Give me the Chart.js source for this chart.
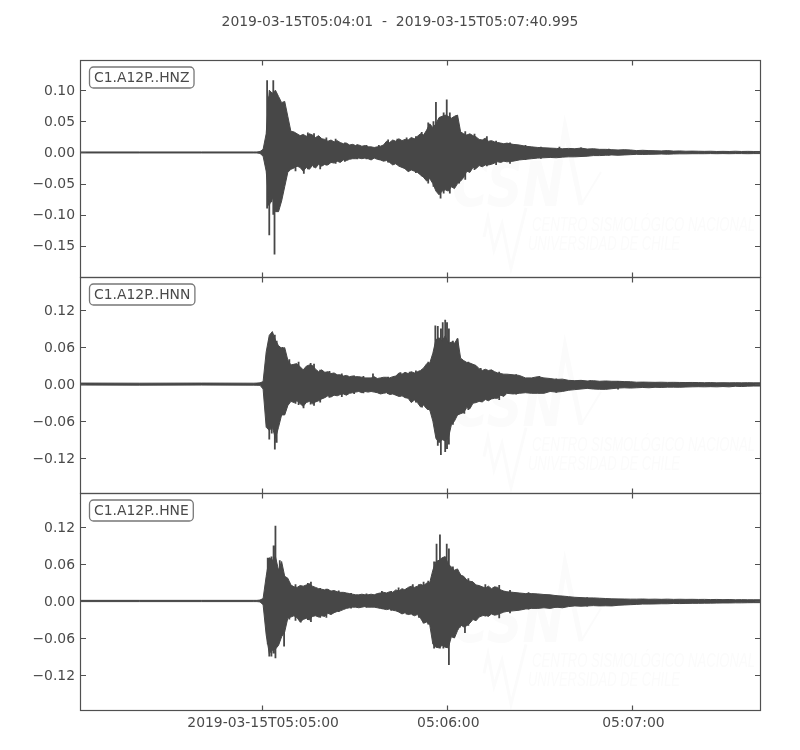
<!DOCTYPE html>
<html><head><meta charset="utf-8">
<script src="https://cdn.jsdelivr.net/npm/chart.js@4"></script>
<style>html,body{margin:0;padding:0;background:#fff}canvas{display:block}</style>
</head><body><canvas id="c" width="800" height="750"></canvas>
<script>
const chartTitle = "2019-03-15T05:04:01  -  2019-03-15T05:07:40.995";
const stations = ["C1.A12P..HNZ", "C1.A12P..HNN", "C1.A12P..HNE"];
const xTickSeconds = [0, 60, 120];
const xTickLabels = ["2019-03-15T05:05:00", "05:06:00", "05:07:00"];
const yTicksZ = [0.10, 0.05, 0, -0.05, -0.10, -0.15];
const yTicksN = [0.12, 0.06, 0, -0.06, -0.12];
const yTicksE = [0.12, 0.06, 0, -0.06, -0.12];

// seconds relative to 05:05:00
const seconds = [-59,-40,-20,-3,-2,-1,
 0,1,2,3,4,5,6,7,8,9,
 10,11,12,13,14,15,16,17,18,19,
 20,21,22,23,24,25,26,27,28,29,
 30,31,32,33,34,35,36,37,38,39,
 40,41,42,43,44,45,46,47,48,49,
 50,51,52,53,54,55,56,57,58,59,
 60,61,62,63,64,65,66,67,68,69,
 70,71,72,73,74,75,76,77,78,79,
 81,83,85,87,89,91,93,95,97,99,
 101,103,105,107,109,111,113,115,117,119,
 121,123,125,127,129,131,133,135,137,139,
 141,143,145,147,149,151,153,155,157,159,
 160.995];

const hnzTop = [.0008,.0008,.0008,.0008,.0008,.0015,
 .005,.03,.10,.095,.10,.09,.08,.082,.058,.034,
 .033,.030,.027,.029,.026,.030,.028,.024,.027,.022,
 .021,.018,.020,.017,.019,.016,.014,.015,.012,.013,
 .011,.012,.010,.011,.009,.009,.008,.009,.010,.012,
 .018,.016,.020,.018,.022,.019,.021,.020,.024,.022,
 .026,.030,.028,.036,.046,.040,.046,.056,.058,.060,
 .058,.055,.058,.060,.033,.030,.028,.030,.027,.025,
 .021,.020,.023,.018,.019,.017,.016,.015,.014,.015,
 .013,.012,.010,.009,.008,.0075,.007,.0065,.006,.0065,
 .006,.007,.0055,.006,.005,.005,.0045,.004,.0045,.004,
 .003,.0035,.003,.0028,.0025,.003,.0022,.0025,.002,.0022,
 .002,.0018,.002,.0016,.0018,.0016,.002,.0016,.0018,.0016,
 .0016];
const hnzBottom = [-.0008,-.0008,-.0008,-.0008,-.0008,-.0015,
 -.006,-.03,-.085,-.072,-.095,-.095,-.078,-.055,-.032,-.027,
 -.025,-.022,-.024,-.030,-.024,-.027,-.021,-.025,-.019,-.022,
 -.019,-.020,-.016,-.017,-.014,-.016,-.012,-.013,-.011,-.010,
 -.010,-.009,-.010,-.009,-.010,-.012,-.009,-.011,-.012,-.014,
 -.013,-.016,-.020,-.018,-.022,-.024,-.026,-.031,-.028,-.030,
 -.032,-.036,-.040,-.046,-.042,-.050,-.062,-.068,-.062,-.060,
 -.062,-.055,-.058,-.050,-.046,-.040,-.030,-.032,-.024,-.026,
 -.021,-.023,-.020,-.020,-.019,-.017,-.015,-.016,-.014,-.015,
 -.014,-.012,-.011,-.010,-.009,-.0085,-.008,-.0085,-.0075,-.007,
 -.007,-.0065,-.006,-.005,-.005,-.0045,-.004,-.0045,-.004,-.0035,
 -.003,-.0032,-.003,-.0028,-.0025,-.0028,-.0024,-.0022,-.0022,-.002,
 -.002,-.002,-.0018,-.002,-.0018,-.002,-.0018,-.0018,-.002,-.0018,
 -.0018];
const hnzSpikeT = [1.3,1.6,2.0,2.6,3.3,3.7,8.5,10.5,12.5,13.2,14.5,16.5,18.5,20.5,23.5,26.5,30.5,33.5,37.5,40.5,43.5,46.5,49.5,51.4,53.5,55.2,56,57.5,58.5,59.5,60.5,62.7,63.5,65.5,68.5,72.5,75.5,80,85,90,96,103,112];
const hnzSpikeHi = [.116,.09,.08,.095,.116,.09,.036,.031,.028,.02,.032,.031,.025,.024,.022,.016,.013,.012,.012,.021,.022,.024,.026,.033,.048,.05,.081,.05,.064,.085,.064,.06,.04,.034,.03,.026,.019,.016,.012,.009,.009,.008,.006];
const hnzSpikeLo = [-.09,-.085,-.133,-.08,-.10,-.164,-.028,-.03,-.026,-.034,-.027,-.024,-.027,-.021,-.018,-.015,-.011,-.011,-.012,-.016,-.02,-.028,-.033,-.038,-.05,-.055,-.05,-.074,-.066,-.055,-.066,-.03,-.05,-.044,-.028,-.022,-.02,-.018,-.012,-.01,-.008,-.007,-.005];

const hnnTop = [.0016,.0014,.0016,.0014,.0016,.002,
 .004,.052,.079,.085,.071,.062,.058,.059,.039,.031,
 .032,.033,.028,.023,.029,.031,.030,.024,.020,.023,
 .019,.020,.017,.018,.015,.015,.013,.014,.012,.013,
 .012,.012,.011,.010,.010,.010,.012,.009,.010,.011,
 .011,.010,.012,.013,.018,.016,.019,.017,.020,.018,
 .020,.022,.026,.033,.034,.050,.072,.075,.070,.078,
 .066,.068,.066,.074,.042,.038,.035,.034,.032,.030,
 .025,.022,.024,.022,.023,.020,.018,.017,.016,.016,
 .015,.014,.010,.010,.012,.010,.009,.0075,.008,.006,
 .0055,.006,.005,.0055,.0045,.005,.0045,.0045,.004,.0038,
 .003,.0032,.003,.0028,.003,.0027,.0028,.0026,.0025,.0026,
 .0024,.0022,.0024,.002,.0022,.002,.0022,.002,.0022,.002,
 .002];
const hnnBottom = [-.0016,-.0018,-.0016,-.0018,-.002,-.002,
 -.008,-.07,-.075,-.07,-.088,-.07,-.05,-.05,-.035,-.028,
 -.03,-.027,-.032,-.036,-.030,-.028,-.032,-.029,-.027,-.024,
 -.022,-.019,-.021,-.018,-.019,-.017,-.016,-.018,-.015,-.014,
 -.013,-.012,-.014,-.012,-.013,-.012,-.013,-.014,-.016,-.015,
 -.014,-.017,-.016,-.018,-.020,-.019,-.022,-.023,-.030,-.026,
 -.030,-.037,-.034,-.040,-.042,-.060,-.088,-.095,-.090,-.092,
 -.088,-.066,-.060,-.050,-.048,-.046,-.038,-.040,-.031,-.030,
 -.028,-.029,-.025,-.027,-.024,-.023,-.023,-.018,-.020,-.015,
 -.016,-.015,-.014,-.015,-.015,-.015,-.012,-.013,-.012,-.010,
 -.009,-.008,-.007,-.008,-.0085,-.0086,-.0075,-.0065,-.006,-.0065,
 -.006,-.0055,-.006,-.0052,-.0055,-.005,-.005,-.0052,-.0048,-.0045,
 -.0043,-.0045,-.0042,-.0045,-.004,-.0045,-.0035,-.004,-.0034,-.0032,
 -.0032];
const hnnSpikeT = [1.6,2.0,2.8,3.8,4.4,6.2,8.5,10.5,11.5,13.1,15.4,16.5,18.5,21.5,25.5,29.5,32.5,35.6,40.5,44.5,47.5,49.5,51.5,53.5,54.8,55.8,56.6,57.6,58.2,59,59.6,60.2,61.5,63,65.2,66.5,70.5,76.5,82,89.5,95,106,115];
const hnnSpikeHi = [.06,.07,.08,.08,.07,.06,.04,.033,.036,.02,.034,.033,.023,.021,.017,.014,.013,.017,.012,.019,.02,.022,.02,.036,.036,.095,.094,.09,.10,.104,.10,.09,.07,.074,.03,.036,.026,.02,.016,.013,.009,.006,.005];
const hnnSpikeLo = [-.07,-.09,-.08,-.106,-.095,-.04,-.03,-.032,-.034,-.039,-.033,-.035,-.03,-.022,-.021,-.016,-.015,-.01,-.016,-.02,-.024,-.03,-.038,-.042,-.044,-.07,-.10,-.115,-.09,-.11,-.105,-.098,-.066,-.05,-.048,-.042,-.029,-.026,-.017,-.015,-.014,-.008,-.009];

const hneTop = [.001,.001,.001,.001,.001,.0015,
 .004,.040,.070,.066,.072,.050,.064,.040,.037,.026,
 .023,.022,.025,.024,.026,.028,.024,.022,.020,.019,
 .018,.019,.016,.017,.015,.014,.014,.013,.012,.011,
 .010,.010,.011,.010,.010,.011,.010,.012,.013,.014,
 .013,.015,.014,.018,.016,.020,.018,.022,.024,.022,
 .024,.027,.025,.029,.030,.050,.064,.066,.070,.072,
 .060,.055,.050,.052,.042,.040,.034,.032,.031,.026,
 .025,.023,.021,.024,.020,.023,.022,.018,.016,.015,
 .014,.013,.012,.012,.0115,.0105,.010,.0086,.008,.007,
 .006,.0055,.005,.005,.0045,.004,.0035,.0034,.0032,.003,
 .003,.0032,.0028,.003,.0027,.003,.0026,.0028,.0026,.0027,
 .0025,.0026,.0023,.0025,.0022,.0024,.002,.0022,.002,.002,
 .002];
const hneBottom = [-.001,-.001,-.001,-.001,-.001,-.0015,
 -.006,-.055,-.085,-.08,-.078,-.072,-.058,-.05,-.028,-.026,
 -.024,-.027,-.034,-.030,-.028,-.031,-.025,-.024,-.026,-.024,
 -.025,-.020,-.022,-.019,-.017,-.016,-.014,-.012,-.011,-.010,
 -.010,-.011,-.010,-.009,-.010,-.010,-.010,-.011,-.012,-.013,
 -.014,-.013,-.015,-.016,-.018,-.021,-.019,-.022,-.021,-.024,
 -.022,-.028,-.036,-.034,-.039,-.070,-.075,-.076,-.072,-.075,
 -.076,-.058,-.060,-.048,-.039,-.042,-.040,-.036,-.030,-.032,
 -.026,-.024,-.023,-.025,-.021,-.023,-.022,-.020,-.018,-.017,
 -.016,-.015,-.013,-.012,-.012,-.011,-.012,-.010,-.011,-.009,
 -.008,-.0085,-.008,-.0075,-.008,-.0078,-.008,-.007,-.0065,-.006,
 -.0055,-.005,-.005,-.0048,-.0045,-.0045,-.004,-.0042,-.004,-.0038,
 -.0038,-.0036,-.0035,-.0034,-.0032,-.0032,-.003,-.003,-.0028,-.0027,
 -.0027];
const hneSpikeT = [1.5,2.0,2.7,3.4,4.0,5.4,6.8,8.5,10.5,12.2,14.5,15.5,18.5,20.5,24.5,28.5,33.5,38.5,41.5,43.9,46.5,48.5,50.5,52,53.5,55.4,56.2,57.3,58.4,59.5,60.2,61.5,63.8,65.4,66.5,72,76.5,80,86,95,105];
const hneSpikeHi = [.07,.07,.072,.09,.122,.066,.04,.03,.027,.02,.029,.031,.021,.02,.017,.013,.012,.016,.016,.022,.021,.027,.027,.031,.033,.064,.093,.108,.07,.093,.085,.056,.044,.03,.037,.027,.026,.018,.014,.0095,.006];
const hneSpikeLo = [-.07,-.09,-.09,-.085,-.093,-.058,-.074,-.03,-.032,-.035,-.031,-.034,-.027,-.027,-.018,-.012,-.011,-.013,-.016,-.018,-.022,-.023,-.027,-.036,-.038,-.077,-.07,-.077,-.077,-.075,-.104,-.058,-.043,-.052,-.04,-.025,-.028,-.02,-.014,-.011,-.009];

const INK = "#474747", TXT = "#4a4a4a", FONT = "'DejaVu Sans'", FS = 13.9;

function traces(axis, top, bottom, st, sh, sl) {
  const spikes = [];
  st.forEach((t, i) => spikes.push({x:t,y:sh[i]},{x:t,y:sl[i]},{x:t,y:null}));
  const zip = a => seconds.map((t, i) => ({x:t, y:a[i]}));
  const base = {yAxisID:axis, pointRadius:0, borderColor:INK, borderWidth:1};
  return [
    {...base, data:zip(top), fill:'+1', backgroundColor:INK},
    {...base, data:zip(bottom), fill:false},
    {...base, data:spikes, borderWidth:1.8, fill:false, spanGaps:false}
  ];
}

function yAxis(min, max, values) {
  return {
    type:'linear', position:'left', stack:'panels', stackWeight:1, min, max,
    grid:{display:false, drawTicks:false}, border:{display:false},
    afterBuildTicks:s => { s.ticks = values.map(v => ({value:v})); },
    afterFit:s => { s.width = 81; },
    ticks:{color:TXT, font:{family:FONT, size:FS}, padding:6, labelOffset:1, autoSkip:false,
      callback:v => v.toFixed(2).replace('-', '\u2212').replace(/^\u22120\.00$/, '0.00')}
  };
}

const frame = {
  id:'frame',
  beforeDatasetsDraw(c) {
    const ctx = c.ctx;
    ctx.save();
    ['yZ','yN','yE'].forEach(id => {
      const s = c.scales[id], oy = s.top - 60 + (id==='yZ'?0:3);
      ctx.fillStyle = '#fbfbfb'; ctx.strokeStyle = '#fbfbfb';
      ctx.font = "italic bold 62px 'DejaVu Sans'";
      ctx.textBaseline = 'alphabetic'; ctx.textAlign = 'left';
      ctx.fillText('CSN', 452, 206+oy, 112);
      ctx.lineWidth = 5; ctx.lineJoin = 'miter';
      ctx.beginPath(); ctx.moveTo(553,205+oy); ctx.lineTo(565,128+oy); ctx.lineTo(581,205+oy); ctx.stroke();
      ctx.lineWidth = 2;
      ctx.beginPath(); ctx.moveTo(581,205+oy); ctx.lineTo(601,172+oy); ctx.stroke();
      ctx.lineWidth = 3;
      ctx.beginPath(); ctx.moveTo(484,237+oy); ctx.lineTo(488,218+oy); ctx.lineTo(494,250+oy);
      ctx.lineTo(502,224+oy); ctx.lineTo(511,268+oy); ctx.lineTo(526,208+oy); ctx.stroke();
      ctx.font = "italic 20px 'Liberation Sans'";
      ctx.fillText('CENTRO SISMOL\u00d3GICO NACIONAL', 532, 231+oy, 223);
      ctx.fillText('UNIVERSIDAD DE CHILE', 528, 250+oy, 152);
    });
    ctx.restore();
  },
  afterDraw(c) {
    const ctx = c.ctx, a = c.chartArea, x = c.scales.x;
    ctx.save();
    ctx.strokeStyle = '#505050'; ctx.lineWidth = 1.2;
    ['yZ','yN','yE'].forEach((id, p) => {
      const s = c.scales[id];
      const t = Math.round(s.top)+.5, b = Math.round(s.bottom)+.5;
      ctx.strokeRect(a.left-.5, t, a.right-a.left+1, b-t);
      ctx.beginPath();
      s.ticks.forEach(k => {
        const y = Math.round(s.getPixelForValue(k.value))+.5;
        ctx.moveTo(a.left, y); ctx.lineTo(a.left+5, y);
        ctx.moveTo(a.right, y); ctx.lineTo(a.right-5, y);
      });
      xTickSeconds.forEach(v => {
        const px = Math.round(x.getPixelForValue(v))-.5;
        ctx.moveTo(px, t); ctx.lineTo(px, t+5);
        ctx.moveTo(px, b); ctx.lineTo(px, b-5);
      });
      ctx.stroke();
      ctx.save();
      ctx.font = FS + "px " + FONT; ctx.fillStyle = '#fff'; ctx.strokeStyle = '#777'; ctx.lineWidth = 1.3;
      const w = ctx.measureText(stations[p]).width + 9, bx = 89.5, by = t + 6.5, h = 21;
      ctx.beginPath(); ctx.roundRect(bx, by, w, h, 4); ctx.fill(); ctx.stroke();
      ctx.fillStyle = TXT; ctx.textBaseline = 'middle'; ctx.textAlign = 'left';
      ctx.fillText(stations[p], bx+4.5, by+h/2+.5);
      ctx.restore();
    });
    ctx.restore();
  }
};

new Chart(document.getElementById('c'), {
  type:'line',
  data:{datasets:[
    ...traces('yE', hneTop, hneBottom, hneSpikeT, hneSpikeHi, hneSpikeLo),
    ...traces('yN', hnnTop, hnnBottom, hnnSpikeT, hnnSpikeHi, hnnSpikeLo),
    ...traces('yZ', hnzTop, hnzBottom, hnzSpikeT, hnzSpikeHi, hnzSpikeLo)
  ]},
  options:{
    responsive:false, animation:false, devicePixelRatio:1,
    layout:{padding:0},
    elements:{line:{tension:0}},
    plugins:{
      legend:{display:false}, tooltip:{enabled:false},
      title:{display:true, text:chartTitle, color:TXT, font:{family:FONT, size:FS, weight:'normal'}, padding:{top:14.5, bottom:28.8}}
    },
    scales:{
      x:{type:'linear', min:-59, max:160.995, grid:{display:false, drawTicks:false}, border:{display:false},
        afterBuildTicks:s => { s.ticks = xTickSeconds.map(v => ({value:v})); },
        afterFit:s => { s.height = 40; },
        ticks:{color:TXT, font:{family:FONT, size:FS}, padding:5, maxRotation:0, autoSkip:false,
          callback:v => xTickLabels[xTickSeconds.indexOf(v)]}},
      yE:yAxis(-0.1768, 0.1746, yTicksE),
      yN:yAxis(-0.177, 0.174, yTicksN),
      yZ:yAxis(-0.1994, 0.1485, yTicksZ),
      rightMargin:{type:'linear', position:'right', display:true, grid:{display:false, drawTicks:false}, border:{display:false},
        ticks:{display:false}, afterFit:s => { s.width = 40; }}
    }
  },
  plugins:[frame]
});
</script></body></html>
